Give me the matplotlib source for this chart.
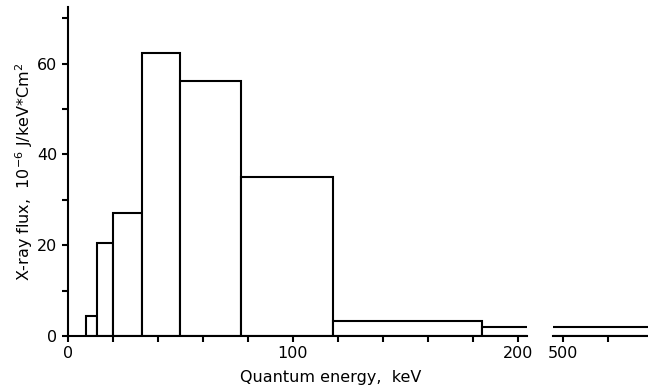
import matplotlib
matplotlib.use("Agg")
import matplotlib.pyplot as plt
from matplotlib.ticker import MultipleLocator, FixedLocator

# histogram bins: left edges, right edges (keV) and flux (1e-6 J/keV*cm^2)
left_edges  = [8, 13, 20, 33, 50, 77, 118, 184]
right_edges = [13, 20, 33, 50, 77, 118, 184, 1000]
flux        = [4.5, 20.5, 27.0, 62.3, 56.3, 35.0, 3.3, 1.9]

y_major = [0, 20, 40, 60]
x_major_left = [0, 100, 200]
x_major_right = [500]

LW = 1.5
FS = 11.5
plt.rcParams["font.family"] = ["DejaVu Sans"]

fig = plt.figure(figsize=(6.48, 3.92), dpi=100)
ax1 = fig.add_axes([0.105, 0.143, 0.708, 0.839])
ax2 = fig.add_axes([0.853, 0.143, 0.147, 0.839])

widths = [r - l for l, r in zip(left_edges, right_edges)]
for ax in (ax1, ax2):
    ax.bar(left_edges, flux, width=widths, align="edge", color="white",
           edgecolor="black", linewidth=LW, zorder=2)
    ax.set_ylim(0, 72.5)
    for s in ("top", "right"):
        ax.spines[s].set_visible(False)
    ax.spines["bottom"].set_linewidth(LW)
    ax.spines["left"].set_linewidth(LW)
    ax.tick_params(which="both", direction="out", width=LW, labelsize=FS)
    ax.tick_params(which="major", length=4)
    ax.tick_params(which="minor", length=4)
    ax.xaxis.set_minor_locator(MultipleLocator(20))

ax1.set_xlim(0, 204)
ax1.xaxis.set_major_locator(FixedLocator(x_major_left))
ax1.yaxis.set_major_locator(FixedLocator(y_major))
ax1.yaxis.set_minor_locator(MultipleLocator(10))

ax2.set_xlim(495.5, 537.8)
ax2.xaxis.set_major_locator(FixedLocator(x_major_right))
ax2.spines["left"].set_visible(False)
ax2.set_yticks([])
ax2.yaxis.set_minor_locator(FixedLocator([]))

ax1.set_ylabel(r"X-ray flux,  10$^{-6}$ J/keV$*$Cm$^2$", fontsize=FS, labelpad=2)
fig.text(0.51, 0.025, "Quantum energy,  keV", fontsize=FS, ha="center")

fig.savefig("out.png", dpi=100)
